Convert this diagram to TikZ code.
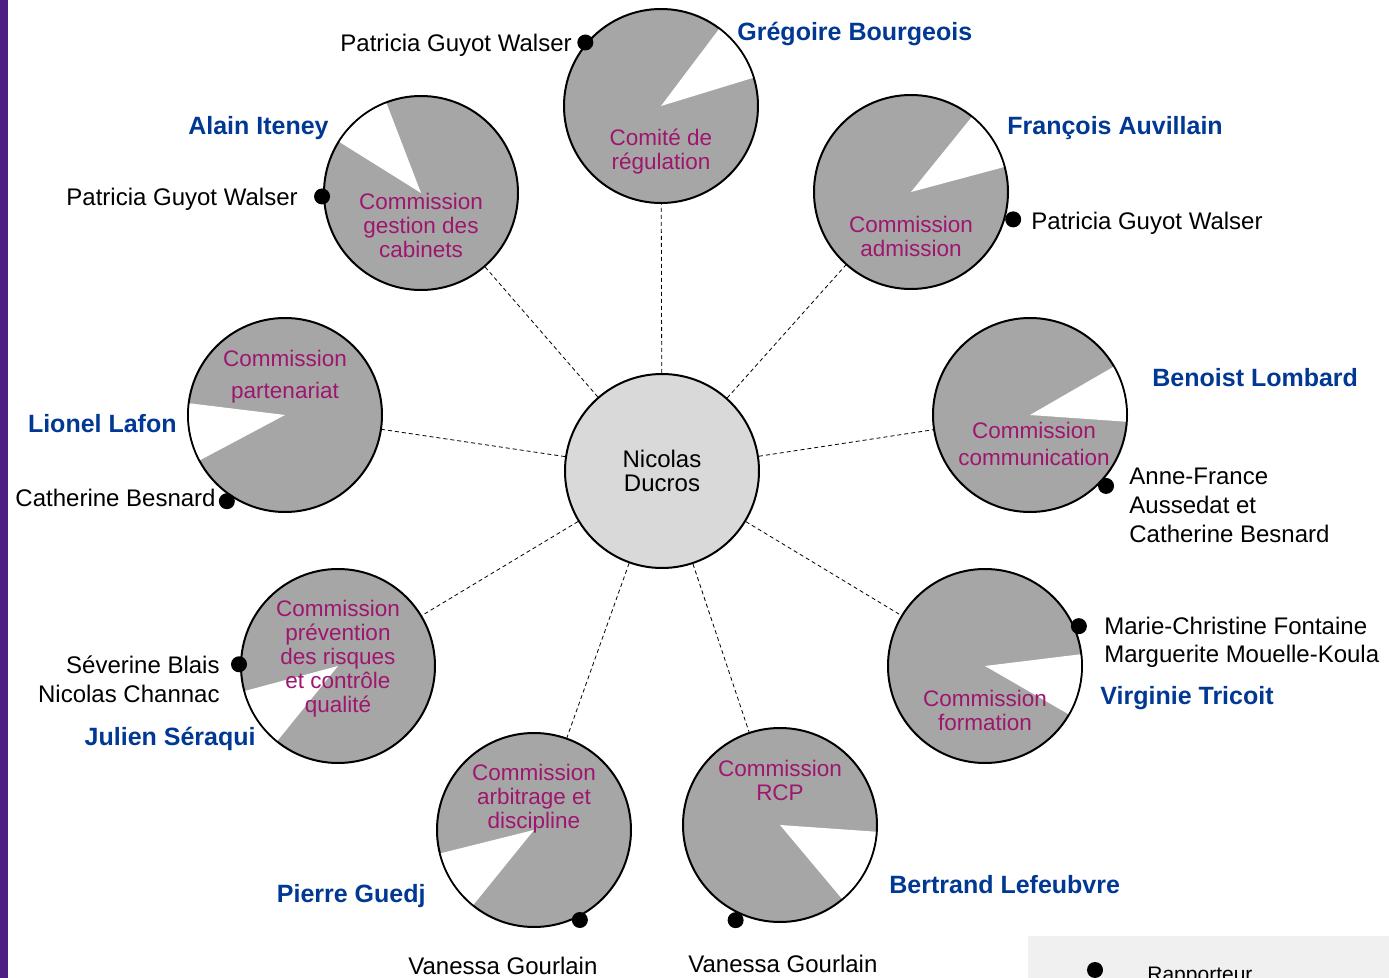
\documentclass[tikz,border=0pt]{standalone}
\usepackage{fontspec}
\setmainfont{Liberation Sans}
\definecolor{commgray}{RGB}{166,166,166}
\definecolor{centergray}{RGB}{217,217,217}
\definecolor{nameblue}{RGB}{0,56,147}
\definecolor{commpink}{RGB}{158,22,110}
\definecolor{barpurple}{RGB}{78,30,130}
\tikzset{
  comm/.style={circle, draw=black, line width=1pt, fill=commgray, minimum size=97pt, inner sep=0pt},
  chief/.style={circle, draw=black, line width=1pt, fill=centergray, minimum size=97pt, inner sep=0pt, align=center, font=\fontsize{12}{12}\selectfont},
  commtext/.style={align=center, text=commpink, font=\fontsize{11.25}{12}\selectfont, inner sep=0pt},
  pres/.style={text=nameblue, font=\fontsize{12.5}{14}\bfseries\selectfont, inner sep=0pt},
  rapp/.style={font=\fontsize{12}{14.5}\selectfont, inner sep=0pt},
  dot/.style={circle, fill=black, minimum size=8pt, inner sep=0pt},
  link/.style={dashed, line width=0.4pt, dash pattern=on 2pt off 1.5pt}
}
\newcommand{\hole}[3]{\fill[white] (#1.center) -- ++(#2:48pt) arc[start angle=#2, end angle=#3, radius=48pt] -- cycle;}
\begin{document}
\begin{tikzpicture}[x=0.5pt, y=-0.5pt]
  \useasboundingbox (0,0) rectangle (1389,978);
  \fill[barpurple] (0,0) rectangle (8,978);

  % circles
  \node[chief] (ND) at (662,471) {Nicolas\\Ducros};
  \node[comm] (REG) at (661,106) {};
  \node[comm] (CAB) at (421,193) {};
  \node[comm] (ADM) at (911,192) {};
  \node[comm] (PAR) at (285,415) {};
  \node[comm] (COM) at (1030,415) {};
  \node[comm] (PRE) at (338,666) {};
  \node[comm] (FOR) at (985,666) {};
  \node[comm] (ARB) at (534,830) {};
  \node[comm] (RCP) at (780,825) {};

  % white slices
  \hole{REG}{17}{53}
  \hole{CAB}{111}{148}
  \hole{ADM}{15}{51}
  \hole{PAR}{173}{208}
  \hole{COM}{-4}{30}
  \hole{PRE}{195}{231}
  \hole{FOR}{-30}{7}
  \hole{ARB}{194}{231}
  \hole{RCP}{-50}{-4}

  % links
  \draw[link] (ND) -- (REG);
  \draw[link] (ND) -- (CAB);
  \draw[link] (ND) -- (ADM);
  \draw[link] (ND) -- (PAR);
  \draw[link] (ND) -- (COM);
  \draw[link] (ND) -- (PRE);
  \draw[link] (ND) -- (FOR);
  \draw[link] (ND) -- (ARB);
  \draw[link] (ND) -- (RCP);

  % commission names
  \node[commtext] (REGt) at (661,152) {Comité de\\régulation};
  \node[commtext] (CABt) at (421,225) {Commission\\gestion des\\cabinets};
  \node[commtext] (ADMt) at (911,236) {Commission\\admission};
  \node[commtext, font=\fontsize{11.25}{16}\selectfont] (PARt) at (285,377) {Commission\\partenariat};
  \node[commtext, font=\fontsize{11.25}{13.5}\selectfont] (COMt) at (1034,444) {Commission\\communication};
  \node[commtext] (PREt) at (338,659) {Commission\\prévention\\des risques\\et contrôle\\qualité};
  \node[commtext] (FORt) at (985,710) {Commission\\formation};
  \node[commtext] (ARBt) at (534,799) {Commission\\arbitrage et\\discipline};
  \node[commtext] (RCPt) at (780,780) {Commission\\RCP};

  % rapporteurs
  \path (REG.center) ++(140:49.4pt) node[dot] (REGd) {};
  \path (CAB.center) ++(182:49.5pt) node[dot] (CABd) {};
  \path (ADM.center) ++(-15:52.9pt) node[dot] (ADMd) {};
  \path (PAR.center) ++(236:52pt) node[dot] (PARd) {};
  \path (COM.center) ++(-43:52pt) node[dot] (COMd) {};
  \path (PRE.center) ++(179:49.5pt) node[dot] (PREd) {};
  \path (FOR.center) ++(23:51pt) node[dot] (FORd) {};
  \path (ARB.center) ++(-63:50.5pt) node[dot] (ARBd) {};
  \path (RCP.center) ++(245:52.5pt) node[dot] (RCPd) {};

  \node[rapp, anchor=east] (REGr) at (572,45) {Patricia Guyot Walser};
  \node[rapp, anchor=east] (CABr) at (298,199) {Patricia Guyot Walser};
  \node[rapp, anchor=west] (ADMr) at (1031,223) {Patricia Guyot Walser};
  \node[rapp, anchor=east] (PARr) at (216,498) {Catherine Besnard};
  \node[rapp, anchor=west, align=left] (COMr) at (1129,505) {Anne-France\\Aussedat et\\Catherine Besnard};
  \node[rapp, anchor=east, align=right] (PREr) at (220,679) {Séverine Blais\\Nicolas Channac};
  \node[rapp, anchor=west, align=left, font=\fontsize{12}{14}\selectfont] (FORr) at (1104,642) {Marie-Christine Fontaine\\Marguerite Mouelle-Koula};
  \node[rapp, anchor=west] (ARBr) at (408,966) {Vanessa Gourlain};
  \node[rapp, anchor=west] (RCPr) at (688,964) {Vanessa Gourlain};

  % presidents
  \node[pres, anchor=west] (REGp) at (737,34) {Grégoire Bourgeois};
  \node[pres, anchor=east] (CABp) at (329,128) {Alain Iteney};
  \node[pres, anchor=west] (ADMp) at (1007,128) {François Auvillain};
  \node[pres, anchor=east] (PARp) at (177,424) {Lionel Lafon};
  \node[pres, anchor=west] (COMp) at (1152,378) {Benoist Lombard};
  \node[pres, anchor=east] (PREp) at (256,739) {Julien Séraqui};
  \node[pres, anchor=west] (FORp) at (1100,698) {Virginie Tricoit};
  \node[pres, anchor=east] (ARBp) at (426,896) {Pierre Guedj};
  \node[pres, anchor=west] (RCPp) at (889,885) {Bertrand Lefeubvre};

  % legend
  \fill[black!6] (1028,936) rectangle (1389,990);
  \node[dot] (LEGd) at (1095,970) {};
  \node[rapp, anchor=west, font=\fontsize{10.5}{12}\selectfont] (LEGt) at (1147,976) {Rapporteur};
\end{tikzpicture}
\end{document}
